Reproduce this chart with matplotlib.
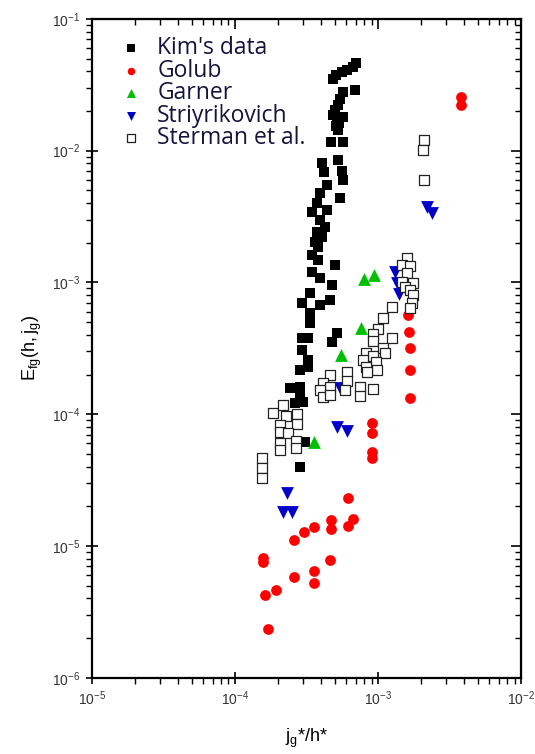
import numpy as np
import matplotlib
matplotlib.use('Agg')
from matplotlib import pyplot as plt
from matplotlib.ticker import LogLocator, NullFormatter

plt.rcParams['font.family'] = ['Liberation Sans', 'DejaVu Sans']
plt.rcParams['mathtext.default'] = 'regular'

# Kim's data (x = j_g*/h*, y = E_fg)
kim_x = [7.02e-4, 6.68e-4, 6.07e-4, 5.60e-4, 5.08e-4, 4.84e-4,
         6.90e-4, 5.69e-4, 5.42e-4, 5.25e-4, 5.00e-4, 4.84e-4, 5.16e-4, 5.69e-4, 5.33e-4, 5.25e-4, 5.08e-4,
         4.69e-4, 5.69e-4,
         4.06e-4, 5.25e-4, 4.19e-4, 5.60e-4, 5.69e-4, 4.40e-4, 3.93e-4, 5.42e-4, 3.75e-4, 3.45e-4, 4.40e-4,
         3.93e-4, 4.26e-4, 3.75e-4, 4.06e-4, 3.63e-4, 3.81e-4,
         3.45e-4, 3.81e-4, 5.00e-4, 3.45e-4, 3.93e-4, 4.77e-4, 3.35e-4, 2.94e-4, 4.62e-4, 3.93e-4, 3.35e-4,
         3.35e-4, 5.16e-4, 4.77e-4, 2.94e-4, 3.24e-4, 2.94e-4, 3.24e-4, 2.85e-4, 3.24e-4, 2.42e-4, 2.85e-4,
         2.85e-4, 2.63e-4, 2.99e-4, 3.09e-4, 2.85e-4]
kim_y = [4.64e-2, 4.33e-2, 4.10e-2, 3.96e-2, 3.76e-2, 3.51e-2,
         2.89e-2, 2.79e-2, 2.47e-2, 2.23e-2, 2.04e-2, 1.87e-2, 1.77e-2, 1.80e-2, 1.63e-2, 1.44e-2, 1.54e-2,
         1.17e-2, 1.17e-2,
         8.08e-3, 8.52e-3, 6.90e-3, 7.03e-3, 6.00e-3, 5.50e-3, 4.78e-3, 4.38e-3, 4.02e-3, 3.43e-3, 3.56e-3,
         2.99e-3, 2.64e-3, 2.42e-3, 2.22e-3, 2.03e-3, 1.86e-3,
         1.62e-3, 1.48e-3, 1.36e-3, 1.20e-3, 1.08e-3, 9.59e-4, 8.34e-4, 7.00e-4, 7.38e-4, 6.76e-4, 5.88e-4,
         4.93e-4, 4.15e-4, 3.54e-4, 3.80e-4, 3.80e-4, 3.08e-4, 2.59e-4, 2.17e-4, 2.29e-4, 1.59e-4, 1.61e-4,
         1.36e-4, 1.22e-4, 1.24e-4, 6.18e-5, 3.99e-5]

golub_x = [3.80e-3, 3.80e-3, 1.62e-3, 1.65e-3, 1.67e-3, 1.67e-3, 1.67e-3, 9.08e-4, 9.08e-4, 9.08e-4,
           9.08e-4, 6.17e-4, 6.68e-4, 6.17e-4, 4.69e-4, 4.69e-4, 3.57e-4, 3.04e-4, 2.59e-4, 1.57e-4,
           1.57e-4, 4.62e-4, 3.57e-4, 3.57e-4, 2.59e-4, 1.94e-4, 1.62e-4, 1.70e-4]
golub_y = [2.56e-2, 2.23e-2, 5.68e-4, 4.22e-4, 3.19e-4, 2.17e-4, 1.33e-4, 8.61e-5, 7.23e-5, 5.19e-5,
           4.67e-5, 2.32e-5, 1.61e-5, 1.42e-5, 1.58e-5, 1.35e-5, 1.40e-5, 1.28e-5, 1.11e-5, 8.13e-6,
           7.59e-6, 7.85e-6, 6.49e-6, 5.26e-6, 5.84e-6, 4.66e-6, 4.27e-6, 2.35e-6]

garner_x = [7.98e-4, 9.38e-4, 7.60e-4, 5.51e-4, 3.57e-4]
garner_y = [1.06e-3, 1.14e-3, 4.53e-4, 2.82e-4, 6.18e-5]

striy_x = [2.20e-3, 2.39e-3, 1.31e-3, 1.36e-3, 1.40e-3, 5.16e-4, 6.07e-4, 5.42e-4, 2.31e-4, 2.17e-4, 2.50e-4]
striy_y = [3.75e-3, 3.38e-3, 1.20e-3, 9.93e-4, 8.19e-4, 8.02e-5, 7.48e-5, 1.59e-4, 2.54e-5, 1.82e-5, 1.82e-5]

sterman_x = [2.10e-3, 2.07e-3, 2.10e-3,
             1.60e-3, 1.47e-3, 1.67e-3, 1.60e-3, 1.47e-3, 1.76e-3, 1.55e-3, 1.67e-3, 1.76e-3, 1.73e-3, 1.67e-3,
             1.25e-3, 1.08e-3, 1.00e-3, 9.22e-4, 1.25e-3, 9.22e-4, 1.08e-3, 1.12e-3, 8.24e-4, 9.22e-4,
             9.68e-4, 7.85e-4, 8.24e-4, 9.84e-4, 8.37e-4, 6.07e-4, 6.07e-4, 5.87e-4, 7.48e-4, 9.22e-4,
             7.48e-4, 4.62e-4, 4.12e-4, 4.62e-4, 3.93e-4, 4.12e-4, 4.62e-4,
             1.84e-4, 2.17e-4, 2.27e-4, 2.71e-4, 2.71e-4, 2.06e-4, 2.06e-4, 2.35e-4, 2.06e-4, 2.67e-4,
             2.06e-4, 2.67e-4, 1.55e-4, 1.55e-4, 1.55e-4]
sterman_y = [1.21e-2, 1.01e-2, 6.00e-3,
             1.54e-3, 1.36e-3, 1.34e-3, 1.18e-3, 1.01e-3, 9.93e-4, 9.27e-4, 8.79e-4, 8.05e-4, 7.00e-4, 6.41e-4,
             6.53e-4, 5.38e-4, 4.45e-4, 4.07e-4, 3.80e-4, 3.61e-4, 3.19e-4, 2.92e-4, 2.92e-4, 2.77e-4,
             2.50e-4, 2.59e-4, 2.29e-4, 2.17e-4, 2.10e-4, 2.10e-4, 1.79e-4, 1.53e-4, 1.61e-4, 1.56e-4,
             1.38e-4, 1.99e-4, 1.73e-4, 1.61e-4, 1.53e-4, 1.36e-4, 1.40e-4,
             1.03e-4, 1.18e-4, 9.73e-5, 1.01e-4, 8.46e-5, 8.31e-5, 7.35e-5, 7.23e-5, 6.07e-5, 6.28e-5,
             5.37e-5, 5.56e-5, 4.67e-5, 3.92e-5, 3.29e-5]

fig = plt.figure(figsize=(5.35, 7.54), dpi=100)
ax = fig.add_axes([0.172, 0.101, 0.802, 0.874])

ax.scatter(kim_x, kim_y, marker='s', s=60, c='black', linewidths=0, label="Kim's data", zorder=3)
ax.scatter(golub_x, golub_y, marker='o', s=60, c='#ff0000', linewidths=0, label='Golub', zorder=3)
ax.scatter(garner_x, garner_y, marker='^', s=85, c='#00c000', linewidths=0, label='Garner', zorder=3)
ax.scatter(striy_x, striy_y, marker='v', s=85, c='#0000c8', linewidths=0, label='Striyrikovich', zorder=3)
ax.scatter(sterman_x, sterman_y, marker='s', s=62, facecolors='white', edgecolors='#222222',
           linewidths=0.9, label='Sterman et al.', zorder=4)

ax.set_xscale('log')
ax.set_yscale('log')
ax.set_xlim(1e-5, 1e-2)
ax.set_ylim(1e-6, 1e-1)

for a in (ax.xaxis, ax.yaxis):
    a.set_major_locator(LogLocator(base=10, numticks=10))
    a.set_minor_locator(LogLocator(base=10, subs=np.arange(2, 10), numticks=20))
    a.set_minor_formatter(NullFormatter())

ax.tick_params(which='major', direction='inout', length=9, width=1.2, labelsize=10, colors='black',
               labelcolor='#333333', pad=4)
ax.tick_params(which='minor', direction='out', length=4, width=1.0)
for s in ax.spines.values():
    s.set_linewidth(1.6)

# inward ticks on top and right
top = ax.secondary_xaxis('top')
right = ax.secondary_yaxis('right')
for sec, a in ((top, top.xaxis), (right, right.yaxis)):
    a.set_major_locator(LogLocator(base=10, numticks=10))
    a.set_minor_locator(LogLocator(base=10, subs=np.arange(2, 10), numticks=20))
    a.set_major_formatter(NullFormatter())
    a.set_minor_formatter(NullFormatter())
    sec.tick_params(which='major', direction='in', length=7, width=1.2)
    sec.tick_params(which='minor', direction='in', length=4, width=1.0)

ax.set_xlabel('$j_g$*/h*', fontsize=13, labelpad=13)
ax.set_ylabel('$E_{fg}(h,j_g)$', fontsize=13, labelpad=6)

leg = ax.legend(loc='upper left', bbox_to_anchor=(0.005, 0.995), frameon=False,
                prop={'family': 'Open Sans', 'size': 16.5}, labelspacing=-0.06,
                handletextpad=0.15, markerscale=0.7, borderaxespad=0.2)
for t in leg.get_texts():
    t.set_color('#14143c')

fig.savefig('out.png', dpi=100)
